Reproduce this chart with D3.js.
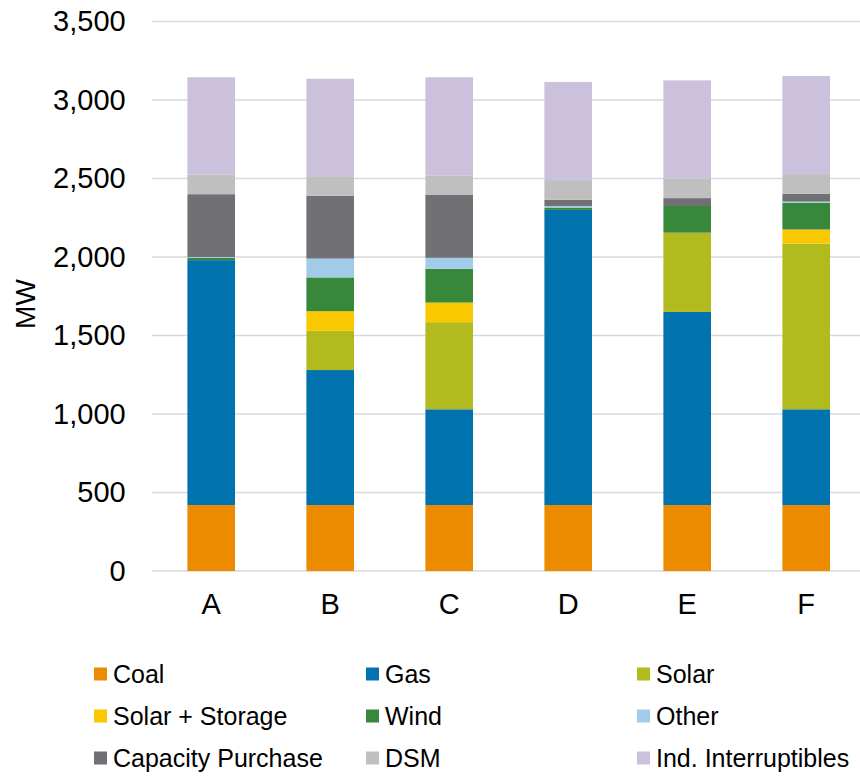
<!DOCTYPE html>
<html>
<head>
<meta charset="utf-8">
<script src="https://cdn.jsdelivr.net/npm/d3@7"></script>
<style>
  html, body { margin: 0; padding: 0; background: #ffffff; }
  svg { display: block; font-family: "Liberation Sans", Arial, sans-serif; }
</style>
</head>
<body>
<svg id="chart" width="860" height="776"></svg>
<script>
// ---- Data ----
const categories = ["A", "B", "C", "D", "E", "F"];
const seriesNames = ["Coal", "Gas", "Solar", "Solar + Storage", "Wind", "Other", "Capacity Purchase", "DSM", "Ind. Interruptibles"];
const coal            = [420, 420, 420, 420, 420, 420];
const gas             = [1560, 860, 610, 1880, 1230, 610];
const solar           = [0, 250, 555, 0, 505, 1055];
const solarStorage    = [0, 125, 125, 0, 0, 90];
const wind            = [15, 215, 215, 15, 170, 170];
const other           = [5, 120, 70, 10, 0, 8];
const capacityPurchase= [400, 400, 400, 40, 50, 50];
const dsm             = [125, 125, 125, 125, 125, 125];
const indInterrupt    = [620, 620, 625, 625, 625, 625];
const yTicks = [0, 500, 1000, 1500, 2000, 2500, 3000, 3500];
const colors = ["#ED8B00", "#0072AE", "#B2BB1E", "#F9C800", "#38883B", "#A2CBEA", "#717074", "#BFBFBF", "#CBC1DC"];

const seriesValues = [coal, gas, solar, solarStorage, wind, other, capacityPurchase, dsm, indInterrupt];
const table = categories.map((c, i) => {
  const row = { category: c };
  seriesNames.forEach((s, k) => row[s] = seriesValues[k][i]);
  return row;
});

const svg = d3.select("#chart");
const x = d3.scaleBand().domain(categories).range([151.7, 865.7]).paddingInner(0.6).paddingOuter(0.3);
const y = d3.scaleLinear().domain([0, 3500]).range([571, 21.5]);

// gridlines
svg.append("g").selectAll("line").data(yTicks).join("line")
  .attr("x1", 151.7).attr("x2", 860)
  .attr("y1", d => y(d)).attr("y2", d => y(d))
  .attr("stroke", "#D9D9D9").attr("stroke-width", 1.5);

// y axis
const yAxis = svg.append("g").attr("transform", "translate(151.7,0)")
  .call(d3.axisLeft(y).tickValues(yTicks).tickFormat(d3.format(",")).tickSize(0).tickPadding(26));
yAxis.select(".domain").remove();
yAxis.selectAll("text").attr("font-size", 29).attr("fill", "#000").attr("font-family", "Liberation Sans, Arial, sans-serif");

// x axis
const xAxis = svg.append("g").attr("transform", "translate(0,571)")
  .call(d3.axisBottom(x).tickSize(0).tickPadding(22));
xAxis.select(".domain").remove();
xAxis.selectAll("text").attr("font-size", 29).attr("fill", "#000").attr("font-family", "Liberation Sans, Arial, sans-serif");

// y label
svg.append("text").attr("transform", "translate(35,304) rotate(-90)")
  .attr("text-anchor", "middle").attr("font-size", 28).attr("fill", "#000").text("MW");

// stacked bars
const stack = d3.stack().keys(seriesNames)(table);
svg.append("g").selectAll("g").data(stack).join("g")
  .attr("fill", (d, i) => colors[i])
  .selectAll("rect").data(d => d).join("rect")
  .attr("x", d => x(d.data.category))
  .attr("width", x.bandwidth())
  .attr("y", d => y(d[1]))
  .attr("height", d => Math.max(0, y(d[0]) - y(d[1])));

// legend
const legendCols = [94, 366, 637];
const legendRows = [674, 716, 758];
const lg = svg.append("g").selectAll("g").data(seriesNames).join("g")
  .attr("transform", (d, i) => `translate(${legendCols[i % 3]},${legendRows[Math.floor(i / 3)]})`);
lg.append("rect").attr("x", 0).attr("y", -6.5).attr("width", 13).attr("height", 13)
  .attr("fill", (d, i) => colors[i]);
lg.append("text").attr("x", 19).attr("y", 0).attr("dy", "0.35em")
  .attr("font-size", 25).attr("fill", "#000").text(d => d);
</script>
</body>
</html>
